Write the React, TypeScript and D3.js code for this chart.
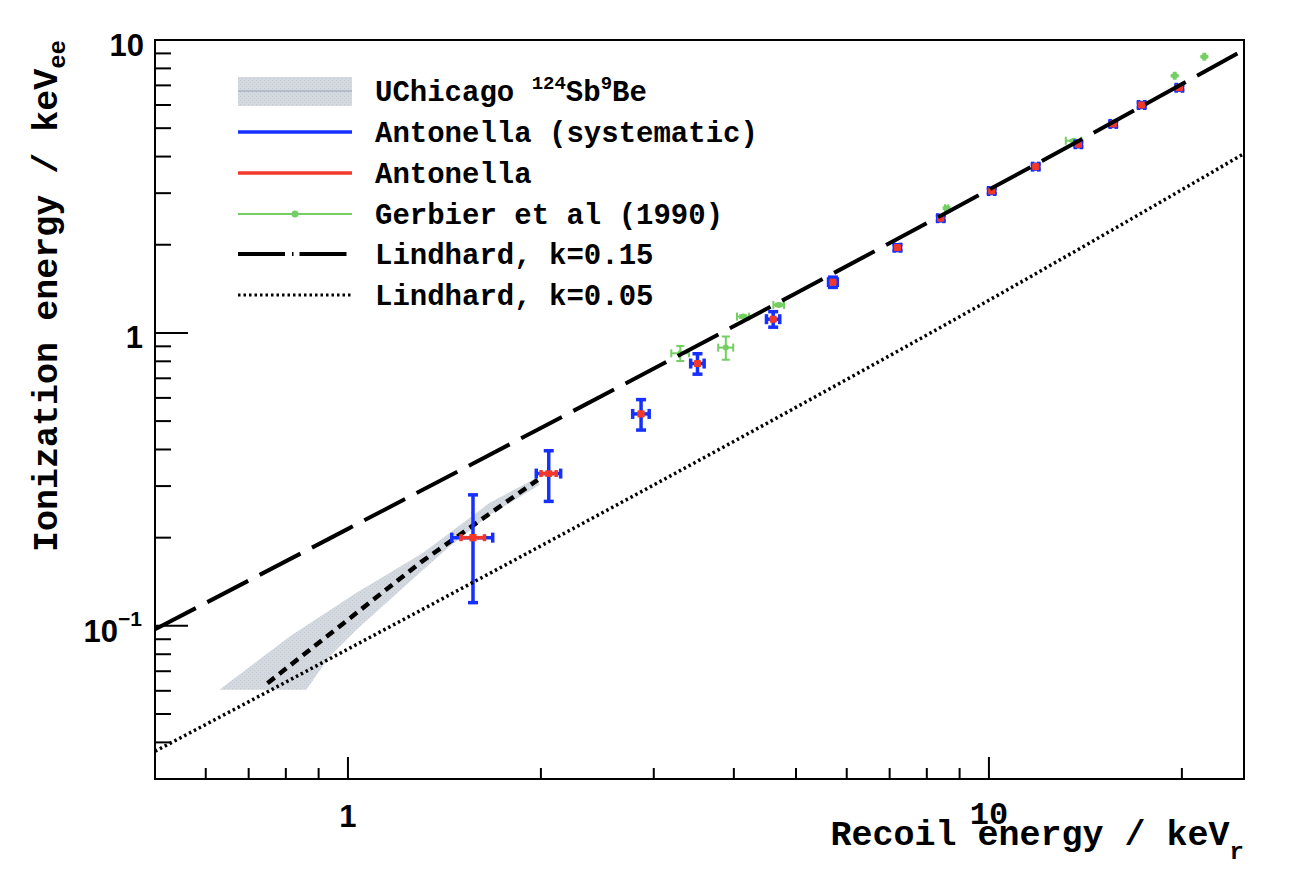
import React from 'react';
import * as d3 from 'd3';

// ---------- data ----------
// Antonella points: recoil energy (keVr) / ionization energy (keVee)
const antX = [1.567, 2.057, 2.866, 3.51, 4.607, 5.71, 7.2, 8.41, 10.1, 11.83, 13.79, 15.63, 17.31, 19.82];
const antY = [0.2, 0.331, 0.529, 0.786, 1.114, 1.49, 1.955, 2.464, 3.052, 3.695, 4.406, 5.17, 6.0, 6.87];
// systematic (blue) errors
const sysXErr = [0.115, 0.09, 0.085, 0.085, 0.11, 0.09, 0.08, 0.09, 0.11, 0.13, 0.15, 0.17, 0.19, 0.22];
const sysYErr = [0.08, 0.065, 0.063, 0.063, 0.068, 0.06, 0.045, 0.05, 0.06, 0.07, 0.085, 0.1, 0.115, 0.13];
// statistical (red) errors
const statXErr = [0.066, 0.056, 0.015, 0.018, 0.023, 0.028, 0.036, 0.042, 0.05, 0.059, 0.069, 0.078, 0.087, 0.099];
const statYErr = [0.003, 0.004, 0.006, 0.008, 0.01, 0.012, 0.016, 0.02, 0.025, 0.03, 0.035, 0.04, 0.048, 0.055];

// Gerbier et al (1990)
const gerX = [3.3, 3.886, 4.135, 4.7, 8.59, 13.56, 19.49, 21.68];
const gerY = [0.852, 0.891, 1.137, 1.246, 2.665, 4.53, 7.55, 8.77];
const gerXErr = [0.105, 0.105, 0.09, 0.09, 0.05, 0.38, 0.06, 0.07];
const gerYErr = [0.05, 0.081, 0.012, 0.013, 0.02, 0.03, 0.04, 0.05];

// UChicago 124Sb9Be band
const bandUpperX = [0.63, 0.811, 1.031, 1.31, 1.664, 1.97];
const bandUpperY = [0.0605, 0.0919, 0.1296, 0.1775, 0.263, 0.32];
const bandLowerX = [0.63, 0.861, 0.936, 1.031, 1.162, 1.31, 1.441, 1.664, 1.992];
const bandLowerY = [0.0605, 0.0605, 0.0786, 0.0969, 0.1227, 0.1553, 0.1865, 0.2392, 0.303];
const bandCenterX = [0.749, 1.3, 1.977];
const bandCenterY = [0.0637, 0.165, 0.315];

// Lindhard curves
const lindX = [0.5, 1, 2, 5, 10, 25];
const lind15 = [0.0973, 0.2143, 0.4738, 1.3666, 3.082, 9.248];
const lind05 = [0.0373, 0.0833, 0.1875, 0.557, 1.293, 4.092];

const legendLabels = [
  'UChicago',
  'Antonella (systematic)',
  'Antonella',
  'Gerbier et al (1990)',
  'Lindhard, k=0.15',
  'Lindhard, k=0.05',
];

const BLUE = '#1530ff';
const RED = '#f2382a';
const GREEN = '#74cf62';
const BAND = '#d3d9df';
const MONO = "'Liberation Mono', 'Courier New', monospace";
const SANS = "'Liberation Sans', Arial, sans-serif";

type EBProps = {
  cx: number; cy: number; xl: number; xh: number; yl: number; yh: number;
  color: string; w: number; cap: number;
};
function ErrBar({ cx, cy, xl, xh, yl, yh, color, w, cap }: EBProps) {
  return (
    <g stroke={color} strokeWidth={w} strokeLinecap="butt">
      <line x1={xl} x2={xh} y1={cy} y2={cy} />
      <line x1={cx} x2={cx} y1={yl} y2={yh} />
      <line x1={xl} x2={xl} y1={cy - cap} y2={cy + cap} />
      <line x1={xh} x2={xh} y1={cy - cap} y2={cy + cap} />
      <line x1={cx - cap} x2={cx + cap} y1={yl} y2={yl} />
      <line x1={cx - cap} x2={cx + cap} y1={yh} y2={yh} />
    </g>
  );
}

export default function App() {
  const L = 155, R = 1244, T = 40, B = 779;
  const x = d3.scaleLog().domain([0.5, 25]).range([L, R]);
  const y = d3.scaleLog().domain([0.03, 10]).range([B, T]);

  const isMajor = (v: number) => Math.abs(Math.log10(v) - Math.round(Math.log10(v))) < 1e-6;
  const xt = x.ticks().filter((v) => v > 0.5 && v < 25);
  const yt = y.ticks().filter((v) => v > 0.03 && v < 10.01);

  const line = d3.line<[number, number]>().x((d) => x(d[0])).y((d) => y(d[1]));
  const smooth = d3
    .line<[number, number]>()
    .x((d) => x(d[0]))
    .y((d) => y(d[1]))
    .curve(d3.curveMonotoneX);

  const bandPts: [number, number][] = [
    ...bandUpperX.map((v, i) => [v, bandUpperY[i]] as [number, number]),
    ...bandLowerX.map((v, i) => [v, bandLowerY[i]] as [number, number]).reverse(),
  ];
  const bandPath = line(bandPts) + 'Z';
  const centerPath = line(bandCenterX.map((v, i) => [v, bandCenterY[i]] as [number, number]));
  const l15Path = smooth(lindX.map((v, i) => [v, lind15[i]] as [number, number]));
  const l05Path = smooth(lindX.map((v, i) => [v, lind05[i]] as [number, number]));

  const legY = [91, 132, 173, 214, 254, 295];
  const lx1 = 238, lx2 = 352, ltx = 375;

  return (
    <svg
      width={1300}
      height={894}
      style={{ position: 'absolute', left: 0, top: 0, background: '#fff' }}
    >
      <defs>
        <pattern id="hatch" x="0" y="0" width="4" height="4" patternUnits="userSpaceOnUse">
          <rect width="4" height="4" fill={BAND} />
          <rect x="0" y="0" width="1" height="1" fill="#c3cad3" />
          <rect x="2" y="2" width="1" height="1" fill="#c3cad3" />
        </pattern>
        <clipPath id="frameClip">
          <rect x={L} y={T} width={R - L} height={B - T} />
        </clipPath>
      </defs>
      <rect width={1300} height={894} fill="#fff" />

      <g clipPath="url(#frameClip)">
        {/* UChicago band */}
        <path d={bandPath} fill="url(#hatch)" stroke="none" />
        <path d={centerPath || ''} fill="none" stroke="#000" strokeWidth={4.5} strokeDasharray="9 6" />

        {/* Gerbier */}
        {gerX.map((gx, i) => {
          const cx = x(gx), cy = y(gerY[i]);
          return (
            <g key={'g' + i}>
              <ErrBar
                cx={cx} cy={cy}
                xl={x(gx - gerXErr[i])} xh={x(gx + gerXErr[i])}
                yl={y(gerY[i] - gerYErr[i])} yh={y(gerY[i] + gerYErr[i])}
                color={GREEN} w={2} cap={4}
              />
              <circle cx={cx} cy={cy} r={3} fill={GREEN} />
            </g>
          );
        })}

        {/* Antonella systematic */}
        {antX.map((ax, i) => (
          <ErrBar
            key={'s' + i}
            cx={x(ax)} cy={y(antY[i])}
            xl={x(ax - sysXErr[i])} xh={x(ax + sysXErr[i])}
            yl={y(antY[i] - sysYErr[i])} yh={y(antY[i] + sysYErr[i])}
            color={BLUE} w={3.5} cap={5}
          />
        ))}
        {/* Antonella statistical */}
        {antX.map((ax, i) => (
          <ErrBar
            key={'r' + i}
            cx={x(ax)} cy={y(antY[i])}
            xl={x(ax - statXErr[i])} xh={x(ax + statXErr[i])}
            yl={y(antY[i] - statYErr[i])} yh={y(antY[i] + statYErr[i])}
            color={RED} w={3.5} cap={3.5}
          />
        ))}

        {/* Lindhard */}
        <path d={l15Path || ''} fill="none" stroke="#000" strokeWidth={4} strokeDasharray="46 13" />
        <path d={l05Path || ''} fill="none" stroke="#000" strokeWidth={3.5} strokeDasharray="2.5 3" />
      </g>

      {/* frame */}
      <rect x={L} y={T} width={R - L} height={B - T} fill="none" stroke="#000" strokeWidth={2} />

      {/* x ticks */}
      {xt.map((v) => (
        <line key={'xt' + v} x1={x(v)} x2={x(v)} y1={B} y2={B - (isMajor(v) ? 22 : 11)} stroke="#000" strokeWidth={2} />
      ))}
      {/* y ticks */}
      {yt.map((v) => (
        <line key={'yt' + v} x1={L} x2={L + (isMajor(v) ? 33 : 16)} y1={y(v)} y2={y(v)} stroke="#000" strokeWidth={2} />
      ))}

      {/* tick labels */}
      <g fontFamily={SANS} fontWeight="bold" fill="#000">
        <text x={144} y={y(10) + 16} fontSize={31} textAnchor="end">10</text>
        <text x={143} y={y(1) + 15} fontSize={31} textAnchor="end">1</text>
        <text x={142} y={y(0.1) + 16} fontSize={31} textAnchor="end">
          10<tspan fontSize={21} dy={-16}>−1</tspan>
        </text>
        <text x={x(1)} y={827} fontSize={31} textAnchor="middle">1</text>
      </g>
      <text x={x(10)} y={824} fontSize={32} textAnchor="middle" fontFamily={MONO} fontWeight="bold">10</text>

      {/* axis titles */}
      <text x={1244} y={845} fontSize={35} textAnchor="end" fontFamily={MONO} fontWeight="bold">
        Recoil energy / keV<tspan fontSize={24} dy={14}>r</tspan>
      </text>
      <text
        x={57}
        y={40}
        fontSize={35}
        textAnchor="end"
        fontFamily={MONO}
        fontWeight="bold"
        transform="rotate(-90, 57, 40)"
      >
        Ionization energy / keV<tspan fontSize={24} dy={8}>ee</tspan>
      </text>

      {/* legend */}
      <g>
        <rect x={lx1} y={77} width={lx2 - lx1} height={29} fill="url(#hatch)" />
        <line x1={lx1} x2={lx2} y1={legY[0]} y2={legY[0]} stroke="#b3bcc6" strokeWidth={2} />
        <line x1={lx1} x2={lx2} y1={legY[1]} y2={legY[1]} stroke={BLUE} strokeWidth={3.5} />
        <line x1={lx1} x2={lx2} y1={legY[2]} y2={legY[2]} stroke={RED} strokeWidth={3.5} />
        <line x1={lx1} x2={lx2} y1={legY[3]} y2={legY[3]} stroke={GREEN} strokeWidth={2} />
        <circle cx={(lx1 + lx2) / 2} cy={legY[3]} r={3.5} fill={GREEN} />
        <line x1={lx1} x2={lx2} y1={legY[4]} y2={legY[4]} stroke="#000" strokeWidth={4} strokeDasharray="47 7 1.5 6" />
        <line x1={lx1} x2={lx2} y1={legY[5]} y2={legY[5]} stroke="#000" strokeWidth={3} strokeDasharray="2.5 3" />
        <g fontFamily={MONO} fontWeight="bold" fontSize={29} fill="#000">
          <text x={ltx} y={legY[0] + 10}>
            {legendLabels[0]} <tspan fontSize={19} dy={-12}>124</tspan>
            <tspan dy={12}>Sb</tspan>
            <tspan fontSize={19} dy={-12}>9</tspan>
            <tspan dy={12}>Be</tspan>
          </text>
          {legendLabels.slice(1).map((t, i) => (
            <text key={t} x={ltx} y={legY[i + 1] + 10}>{t}</text>
          ))}
        </g>
      </g>
    </svg>
  );
}
